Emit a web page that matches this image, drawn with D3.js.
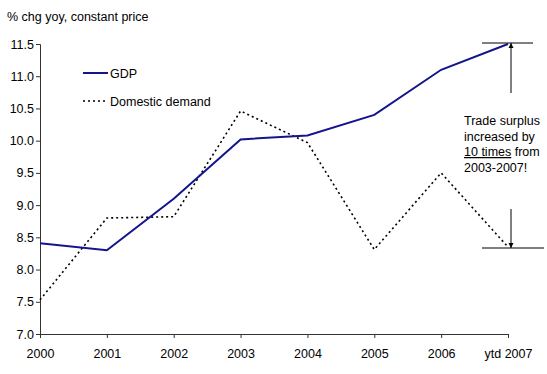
<!DOCTYPE html>
<html>
<head>
<meta charset="utf-8">
<script src="https://cdn.jsdelivr.net/npm/d3@7"></script>
<style>
  body { margin: 0; background: #fff; }
  svg { display: block; font-family: Arial, "Liberation Sans", sans-serif; }
  .axis path, .axis line { stroke: #333; }
  .axis text { font-size: 12.5px; fill: #000; font-family: Arial, "Liberation Sans", sans-serif; }
</style>
</head>
<body>
<svg id="chart" width="547" height="374"></svg>
<script>
// categories and series
const years = ["2000", "2001", "2002", "2003", "2004", "2005", "2006", "ytd 2007"];
const gdp = [8.41, 8.30, 9.10, 10.02, 10.08, 10.40, 11.10, 11.50];
const domesticDemand = [7.53, 8.80, 8.82, 10.46, 9.97, 8.31, 9.50, 8.35];
const yTicks = [7.0, 7.5, 8.0, 8.5, 9.0, 9.5, 10.0, 10.5, 11.0, 11.5];
const noteLines = ["Trade surplus", "increased by", "10 times| from", "2003-2007!"];

const svg = d3.select("#chart");

const x = d3.scalePoint().domain(years).range([40, 508]);
const y = d3.scaleLinear().domain([7, 11.5]).range([334, 44]);

// arrow marker
svg.append("defs").append("marker")
  .attr("id", "arrow")
  .attr("viewBox", "0 0 10 10")
  .attr("refX", 10).attr("refY", 5)
  .attr("markerWidth", 5).attr("markerHeight", 6)
  .attr("orient", "auto")
  .append("path")
  .attr("d", "M0,0 L10,5 L0,10 Z")
  .attr("fill", "#000");

// y axis
svg.append("g")
  .attr("class", "axis")
  .attr("transform", "translate(40,0)")
  .call(d3.axisLeft(y).tickValues(yTicks).tickFormat(d3.format(".1f")).tickSizeOuter(0).tickSize(4).tickPadding(2));

// x axis
svg.append("g")
  .attr("class", "axis")
  .attr("transform", "translate(0,334)")
  .call(d3.axisBottom(x).tickSizeOuter(0).tickSize(4).tickPadding(11));

// title
svg.append("text")
  .attr("x", 7).attr("y", 21)
  .attr("font-size", "12.5px")
  .text("% chg yoy, constant price");

const line = d3.line()
  .x((d, i) => x(years[i]))
  .y(d => y(d));

// domestic demand (dotted)
svg.append("path")
  .datum(domesticDemand)
  .attr("fill", "none")
  .attr("stroke", "#000")
  .attr("stroke-width", 1.6)
  .attr("stroke-dasharray", "2,3")
  .attr("d", line);

// GDP
svg.append("path")
  .datum(gdp)
  .attr("fill", "none")
  .attr("stroke", "#14148c")
  .attr("stroke-width", 2)
  .attr("d", line);

// legend
const legend = [
  { name: "GDP", color: "#14148c", width: 2, dash: null, y: 73 },
  { name: "Domestic demand", color: "#000", width: 1.6, dash: "2,3", y: 101 },
];
legend.forEach(l => {
  svg.append("line")
    .attr("x1", 83).attr("x2", 108)
    .attr("y1", l.y).attr("y2", l.y)
    .attr("stroke", l.color)
    .attr("stroke-width", l.width)
    .attr("stroke-dasharray", l.dash);
  svg.append("text")
    .attr("x", 110).attr("y", l.y + 4.5)
    .attr("font-size", "12.5px")
    .text(l.name);
});

// annotation: arrows between GDP and domestic demand at ytd 2007
const last = years[years.length - 1];
const ax = x(last) + 3;
const yTop = y(gdp[gdp.length - 1]);
const yBot = y(domesticDemand[domesticDemand.length - 1]);

svg.append("line")
  .attr("x1", 482).attr("x2", 533)
  .attr("y1", yTop - 1).attr("y2", yTop - 1)
  .attr("stroke", "#000").attr("stroke-width", 1.2);
svg.append("line")
  .attr("x1", 482).attr("x2", 544)
  .attr("y1", yBot + 1).attr("y2", yBot + 1)
  .attr("stroke", "#000").attr("stroke-width", 1.2);

svg.append("line")
  .attr("x1", ax).attr("x2", ax)
  .attr("y1", 93).attr("y2", yTop - 1)
  .attr("stroke", "#000").attr("stroke-width", 1)
  .attr("marker-end", "url(#arrow)");
svg.append("line")
  .attr("x1", ax).attr("x2", ax)
  .attr("y1", 209).attr("y2", yBot + 1)
  .attr("stroke", "#000").attr("stroke-width", 1)
  .attr("marker-end", "url(#arrow)");

// annotation text
const note = svg.append("text")
  .attr("font-size", "12.5px");
noteLines.forEach((ln, i) => {
  const t = note.append("tspan")
    .attr("x", 464)
    .attr("y", 125 + i * 15.5);
  if (ln.includes("|")) {
    const [u, rest] = ln.split("|");
    t.append("tspan").attr("text-decoration", "underline").text(u);
    t.append("tspan").text(rest);
  } else {
    t.text(ln);
  }
});
</script>
</body>
</html>
